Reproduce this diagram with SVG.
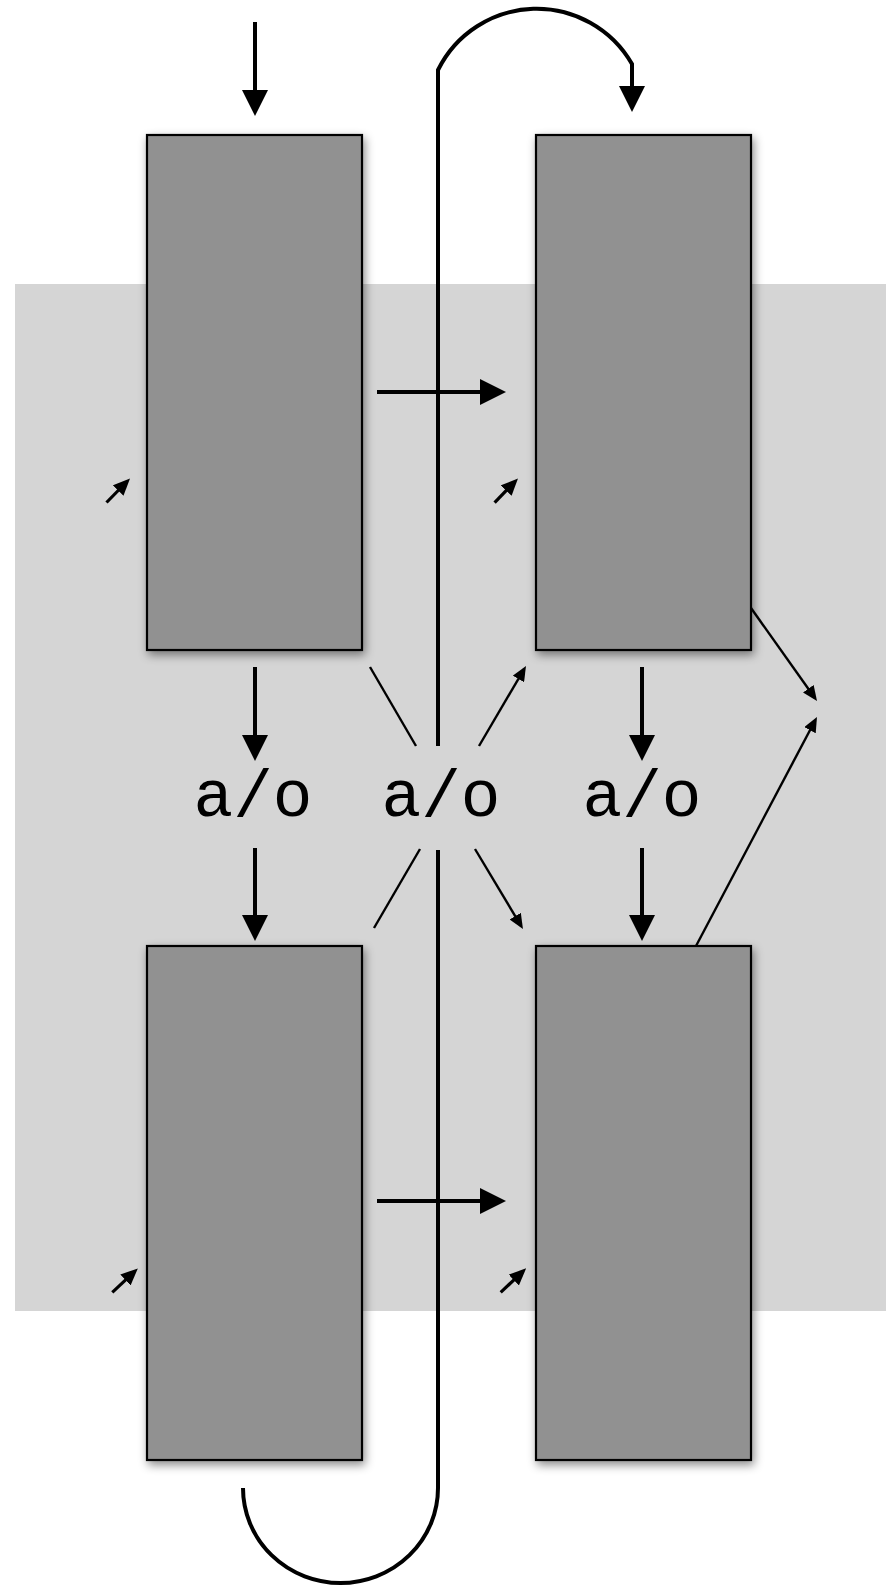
<svg xmlns="http://www.w3.org/2000/svg" width="886" height="1586" viewBox="0 0 886 1586">
  <style>
    .box { fill: #919191; stroke: #000; stroke-width: 2.2; filter: url(#shadow); }
    .thick { fill: none; stroke: #000; stroke-width: 4; }
    .thin { fill: none; stroke: #000; stroke-width: 2.4; }
    .small { fill: none; stroke: #000; stroke-width: 3.2; }
    .label { font-family: "Liberation Mono", "Courier New", monospace; font-size: 66px; fill: #000; text-anchor: middle; }
  </style>
  <defs>
    <filter id="shadow" x="-20%" y="-20%" width="140%" height="140%">
      <feDropShadow dx="2" dy="4" stdDeviation="5" flood-color="#000" flood-opacity="0.45"/>
    </filter>
    <marker id="ah" markerUnits="userSpaceOnUse" markerWidth="26" markerHeight="26" refX="16" refY="13" orient="auto">
      <path d="M0,0 L26,13 L0,26 Z" fill="#000"/>
    </marker>
    <marker id="ahs" markerUnits="userSpaceOnUse" markerWidth="15" markerHeight="13" refX="11" refY="6.5" orient="auto">
      <path d="M0,0 L15,6.5 L0,13 Z" fill="#000"/>
    </marker>
    <marker id="ahc" markerUnits="userSpaceOnUse" markerWidth="17" markerHeight="15" refX="12" refY="7.5" orient="auto">
      <path d="M0,0 L17,7.5 L0,15 Z" fill="#000"/>
    </marker>
  </defs>

  <!-- white page and shaded band -->
  <rect x="0" y="0" width="886" height="1586" fill="#fff"/>
  <rect id="band" x="15" y="284" width="871" height="1027" fill="#d5d5d5"/>

  <!-- blocks -->
  <g id="block-top-left"><rect class="box" x="147" y="135" width="215" height="515"/></g>
  <g id="block-top-right"><rect class="box" x="536" y="135" width="215" height="515"/></g>
  <g id="block-bottom-left"><rect class="box" x="147" y="946" width="215" height="514"/></g>
  <g id="block-bottom-right"><rect class="box" x="536" y="946" width="215" height="514"/></g>

  <!-- a/o labels -->
  <g id="ao-left"><text class="label" x="253" y="816">a/o</text></g>
  <g id="ao-middle"><text class="label" x="441" y="816">a/o</text></g>
  <g id="ao-right"><text class="label" x="642" y="816">a/o</text></g>

  <g id="connectors">
    <!-- input into top-left block -->
    <line class="thick" x1="255" y1="22" x2="255" y2="106" marker-end="url(#ah)"/>
    <!-- long loop: bottom U, up the middle, over into top-right block -->
    <path class="thick" d="M243,1488 A97.5,95 0 0 0 438,1488 L438,850"/>
    <path class="thick" d="M438,746 L438,70 A110,110 0 0 1 632,64 L632,102" marker-end="url(#ah)"/>
    <!-- horizontal transfers -->
    <line class="thick" x1="377" y1="392" x2="496" y2="392" marker-end="url(#ah)"/>
    <line class="thick" x1="377" y1="1201" x2="496" y2="1201" marker-end="url(#ah)"/>
    <!-- column arrows through a/o -->
    <line class="thick" x1="255" y1="667" x2="255" y2="751" marker-end="url(#ah)"/>
    <line class="thick" x1="255" y1="848" x2="255" y2="931" marker-end="url(#ah)"/>
    <line class="thick" x1="642" y1="667" x2="642" y2="751" marker-end="url(#ah)"/>
    <line class="thick" x1="642" y1="848" x2="642" y2="931" marker-end="url(#ah)"/>
    <!-- middle crossing lines -->
    <line class="thin" x1="370" y1="667" x2="416" y2="746"/>
    <line class="thin" x1="420" y1="849" x2="374" y2="928"/>
    <line class="thin" x1="479" y1="746" x2="524" y2="669.4" marker-end="url(#ahs)"/>
    <line class="thin" x1="475" y1="849" x2="520.9" y2="925.6" marker-end="url(#ahs)"/>
    <!-- right side outputs -->
    <line class="thin" x1="751" y1="608" x2="814.7" y2="697.7" marker-end="url(#ahs)"/>
    <line class="thin" x1="696" y1="946" x2="815.1" y2="720.5" marker-end="url(#ahs)"/>
    <!-- small side inputs -->
    <line class="small" x1="106.5" y1="502.5" x2="126.5" y2="482" marker-end="url(#ahc)"/>
    <line class="small" x1="494.6" y1="502.7" x2="514.5" y2="482" marker-end="url(#ahc)"/>
    <line class="small" x1="112.3" y1="1292.3" x2="134.2" y2="1271.8" marker-end="url(#ahc)"/>
    <line class="small" x1="500.7" y1="1292.3" x2="522.5" y2="1271.8" marker-end="url(#ahc)"/>
  </g>
</svg>
